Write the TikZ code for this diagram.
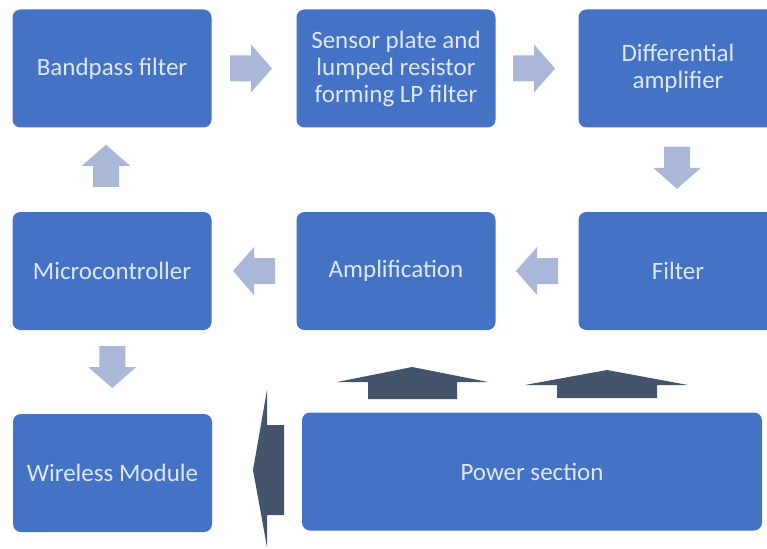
\documentclass[tikz,border=0pt]{standalone}
\usepackage{fontspec}
\setmainfont{Carlito}
\usetikzlibrary{calc}
\definecolor{boxblue}{RGB}{68,114,196}
\definecolor{arrowblue}{RGB}{170,183,217}
\definecolor{darkslate}{RGB}{68,84,106}
\definecolor{boxtext}{RGB}{222,232,248}

\tikzset{
	block/.style={fill=boxblue,rounded corners=8pt,text=boxtext,align=center,inner sep=0pt,
		minimum width=199pt,minimum height=118pt,font=\fontsize{25}{27}\selectfont},
	flowarrow/.pic={\fill[arrowblue] (-21,-13) -- (0,-13) -- (0,-24) -- (21,0) -- (0,24) -- (0,13) -- (-21,13) -- cycle;},
	powerarrow/.style={fill=darkslate}
}

\begin{document}
\begin{tikzpicture}[x=1pt,y=1pt]
	\clip (0,0) rectangle (767,-548);
	\fill[white] (0,0) rectangle (767,-548);
	
	\node[block] (bp) at (112,-68.5) {Bandpass filter};
	\node[block] (sensor) at (396,-68.5) {Sensor plate and\\lumped resistor\\forming LP filter};
	\node[block] (diff) at (678,-68.5) {Differential\\amplifier};
	\node[block] (mc) at (112,-271) {Microcontroller};
	\node[block] (amp) at (396,-271) {Amplification};
	\node[block] (filt) at (678,-271) {Filter};
	\node[block] (wm) at (112.5,-473) {Wireless Module};
	\node[block,minimum width=460pt] (pwr) at (532,-471.5) {Power section};
	
	% signal chain
	\pic at ($(bp.east)!0.5!(sensor.west)+(-3,0)$) {flowarrow};
	\pic at ($(sensor.east)!0.5!(diff.west)+(-3,0)$) {flowarrow};
	\pic[rotate=-90] at ($(diff.south)!0.5!(filt.north)+(-1,2)$) {flowarrow};
	\pic[rotate=180] at ($(filt.west)!0.5!(amp.east)$) {flowarrow};
	\pic[rotate=180] at ($(amp.west)!0.5!(mc.east)$) {flowarrow};
	\pic[rotate=90] at ($(mc.north)!0.5!(bp.south)+(-6,4)$) {flowarrow};
	\pic[rotate=-90] at ($(mc.south)!0.5!(wm.north)+(0,5)$) {flowarrow};
	
	% power supply
	\fill[powerarrow] (368,-399) -- (368,-382) -- (337,-382) -- (412,-367) -- (488,-382) -- (457,-382) -- (457,-399) -- cycle;
	\fill[powerarrow] (557,-398) -- (557,-385) -- (525,-385) -- (607,-370) -- (688,-385) -- (657,-385) -- (657,-398) -- cycle;
	\fill[powerarrow] (284,-425) -- (267,-425) -- (267,-390) -- (253,-470) -- (267,-547) -- (267,-515) -- (284,-515) -- cycle;
\end{tikzpicture}
\end{document}
